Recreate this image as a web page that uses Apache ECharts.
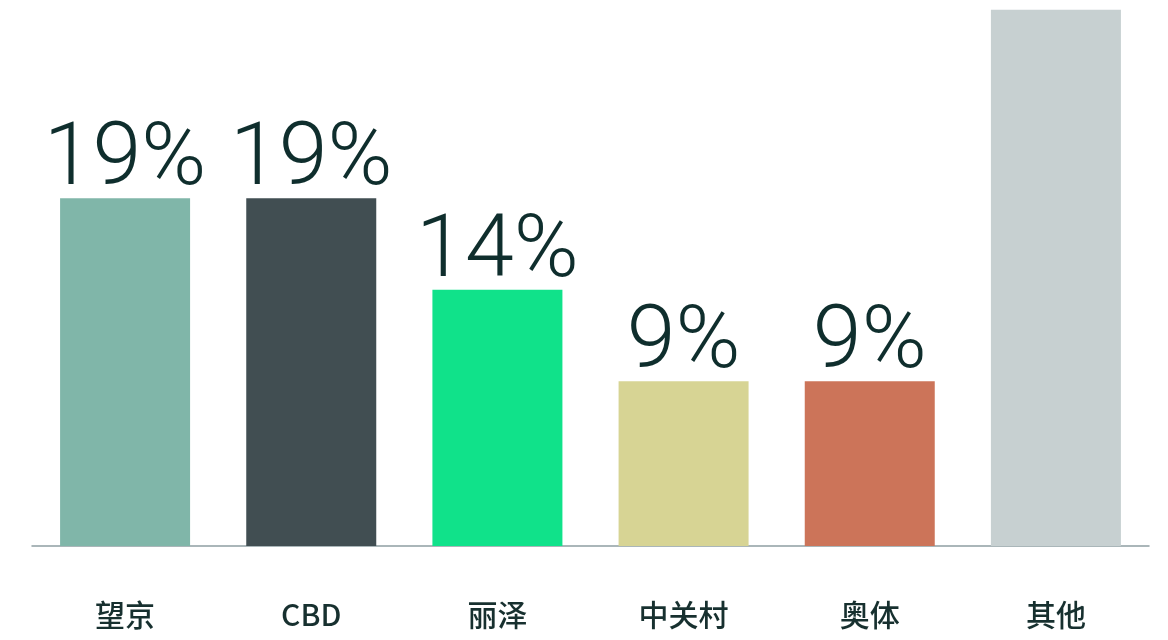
<!DOCTYPE html>
<html>
<head>
<meta charset="utf-8">
<script src="https://cdn.jsdelivr.net/npm/echarts@6/dist/echarts.min.js"></script>
<style>html,body{margin:0;padding:0;background:#fff}#c{width:1168px;height:640px}</style>
</head>
<body>
<div id="c"></div>
<script>
const categories = ['望京', 'CBD', '丽泽', '中关村', '奥体', '其他'];
const values = [19, 19, 14, 9, 9, 29.3];
const showLabel = [true, true, true, true, true, false];
const colors = ['#80b6a9', '#414e52', '#10e28a', '#d7d494', '#cc7459', '#c7d0d1'];

const chart = echarts.init(document.getElementById('c'));
chart.setOption({
  animation: false,
  grid: { left: 32, right: 19, top: 6, bottom: 94 },
  xAxis: {
    type: 'category',
    data: categories,
    axisLine: { show: true, lineStyle: { color: '#8e9ea3', width: 1.5 } },
    axisTick: { show: false },
    axisLabel: {
      margin: 54,
      fontFamily: 'Noto Sans CJK SC',
      fontSize: 30,
      fontWeight: 500,
      color: '#17302f'
    }
  },
  yAxis: {
    type: 'value',
    min: 0,
    max: 29.5,
    show: false,
    splitLine: { show: false }
  },
  series: [{
    type: 'bar',
    barWidth: 130,
    data: values.map((v, i) => ({
      value: v,
      itemStyle: { color: colors[i] },
      label: {
        show: showLabel[i],
        position: 'top',
        distance: -8,
        formatter: '{c}%',
        fontFamily: 'Roboto',
        fontWeight: 300,
        fontSize: 88,
        color: '#0f2e2d'
      }
    }))
  }]
});
</script>
</body>
</html>
